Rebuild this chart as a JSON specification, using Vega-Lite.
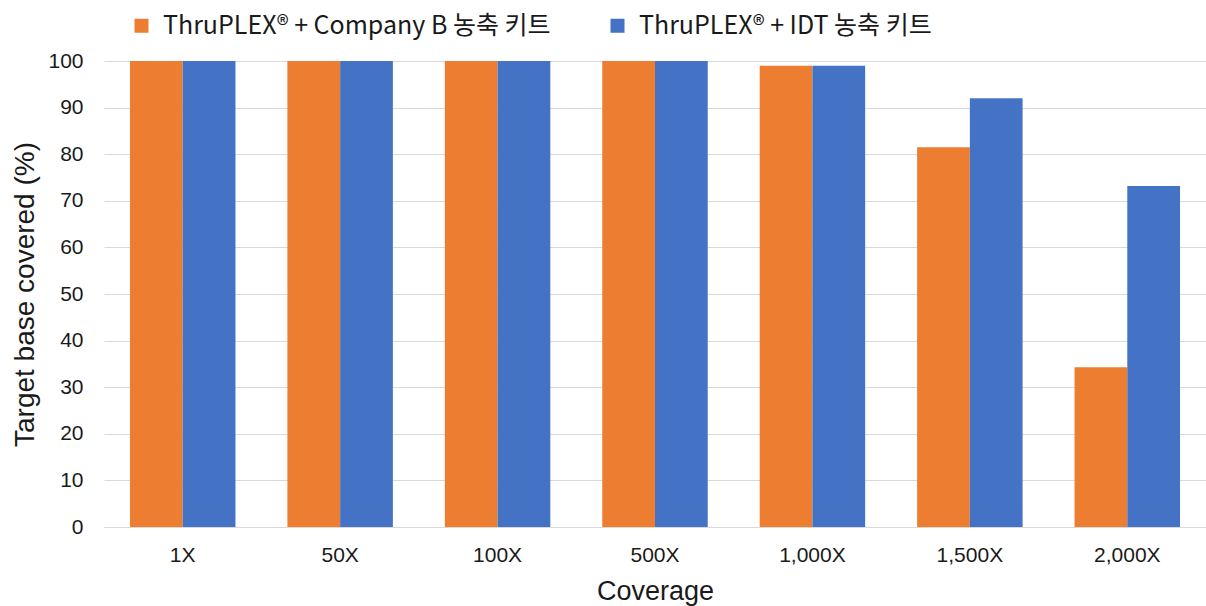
{
  "$schema": "https://vega.github.io/schema/vega-lite/v6.json",
  "width": 1102,
  "height": 466,
  "autosize": {"type": "none"},
  "padding": {"left": 104, "top": 61, "right": 0, "bottom": 79},
  "background": "white",
  "config": {"view": {"stroke": null}},
  "data": {
    "values": [
      {"coverage": "1X", "kit": "ThruPLEX® + Company B 농축 키트", "value": 100},
      {"coverage": "1X", "kit": "ThruPLEX® + IDT 농축 키트", "value": 100},
      {"coverage": "50X", "kit": "ThruPLEX® + Company B 농축 키트", "value": 100},
      {"coverage": "50X", "kit": "ThruPLEX® + IDT 농축 키트", "value": 100},
      {"coverage": "100X", "kit": "ThruPLEX® + Company B 농축 키트", "value": 100},
      {"coverage": "100X", "kit": "ThruPLEX® + IDT 농축 키트", "value": 100},
      {"coverage": "500X", "kit": "ThruPLEX® + Company B 농축 키트", "value": 100},
      {"coverage": "500X", "kit": "ThruPLEX® + IDT 농축 키트", "value": 100},
      {"coverage": "1,000X", "kit": "ThruPLEX® + Company B 농축 키트", "value": 99},
      {"coverage": "1,000X", "kit": "ThruPLEX® + IDT 농축 키트", "value": 99},
      {"coverage": "1,500X", "kit": "ThruPLEX® + Company B 농축 키트", "value": 81.5},
      {"coverage": "1,500X", "kit": "ThruPLEX® + IDT 농축 키트", "value": 92},
      {"coverage": "2,000X", "kit": "ThruPLEX® + Company B 농축 키트", "value": 34.3},
      {"coverage": "2,000X", "kit": "ThruPLEX® + IDT 농축 키트", "value": 73.2}
    ]
  },
  "mark": {"type": "bar"},
  "encoding": {
    "x": {
      "field": "coverage",
      "type": "nominal",
      "sort": ["1X", "50X", "100X", "500X", "1,000X", "1,500X", "2,000X"],
      "scale": {"paddingInner": 0.33, "paddingOuter": 0.165},
      "axis": {
        "title": "Coverage",
        "labelAngle": 0,
        "labelFont": "Liberation Sans",
        "labelFontSize": 21,
        "labelColor": "#1a1a1a",
        "labelPadding": 17,
        "ticks": false,
        "domainColor": "#d9d9d9",
        "domainWidth": 1,
        "titleFont": "Liberation Sans",
        "titleFontSize": 27,
        "titleFontWeight": "normal",
        "titleColor": "#1a1a1a",
        "titlePadding": 13
      }
    },
    "xOffset": {
      "field": "kit",
      "type": "nominal",
      "sort": ["ThruPLEX® + Company B 농축 키트", "ThruPLEX® + IDT 농축 키트"]
    },
    "y": {
      "field": "value",
      "type": "quantitative",
      "scale": {"domain": [0, 100]},
      "axis": {
        "title": "Target base covered (%)",
        "values": [0, 10, 20, 30, 40, 50, 60, 70, 80, 90, 100],
        "grid": true,
        "gridColor": "#d9d9d9",
        "domain": false,
        "ticks": false,
        "labelFont": "Liberation Sans",
        "labelFontSize": 21,
        "labelColor": "#1a1a1a",
        "labelPadding": 21,
        "titleFont": "Liberation Sans",
        "titleFontSize": 28,
        "titleFontWeight": "normal",
        "titleColor": "#1a1a1a",
        "titlePadding": 8
      }
    },
    "color": {
      "field": "kit",
      "type": "nominal",
      "sort": ["ThruPLEX® + Company B 농축 키트", "ThruPLEX® + IDT 농축 키트"],
      "scale": {"range": ["#ED7D31", "#4472C4"]},
      "legend": {
        "title": null,
        "orient": "none",
        "direction": "horizontal",
        "legendX": 25,
        "legendY": -48,
        "symbolType": "square",
        "symbolSize": 196,
        "symbolStrokeWidth": 0,
        "labelFont": "Noto Sans CJK KR",
        "labelFontSize": 25,
        "labelColor": "#1a1a1a",
        "labelOffset": 9,
        "labelLimit": 600,
        "columnPadding": 54
      }
    }
  }
}
